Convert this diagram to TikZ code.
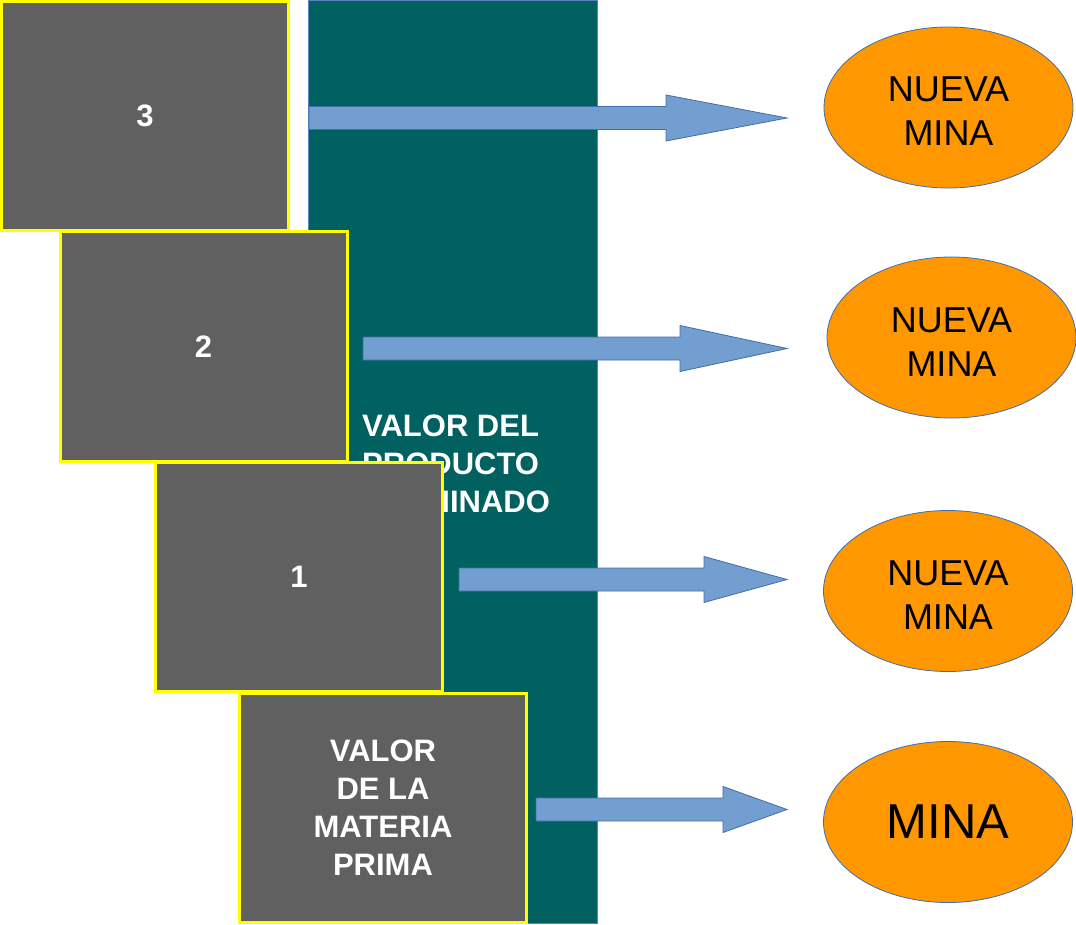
\documentclass[tikz,border=0pt]{standalone}
\usepackage{fontspec}
\setmainfont{Liberation Sans}
\usetikzlibrary{shapes.geometric}
\definecolor{tealbg}{RGB}{1,96,96}
\definecolor{tealedge}{RGB}{90,130,190}
\definecolor{boxgray}{RGB}{96,96,96}
\definecolor{boxedge}{RGB}{255,255,0}
\definecolor{arrowfill}{RGB}{114,159,207}
\definecolor{arrowedge}{RGB}{65,110,170}
\definecolor{minafill}{RGB}{255,152,0}
\definecolor{minaedge}{RGB}{65,110,170}
\tikzset{
  stagebox/.style={draw=boxedge, line width=3pt, fill=boxgray, rectangle,
    minimum width=287pt, minimum height=229pt, inner sep=0pt,
    text=white, font=\fontsize{31}{38}\selectfont\bfseries, align=center},
  minanode/.style={draw=minaedge, line width=0.8pt, fill=minafill, ellipse,
    minimum width=249pt, minimum height=161pt, inner sep=0pt,
    text=black, font=\fontsize{36}{44}\selectfont, align=center},
  blockarrow/.style={draw=arrowedge, line width=0.8pt, fill=arrowfill, line join=miter},
  tealtext/.style={text=white, font=\fontsize{31}{38}\selectfont\bfseries, inner sep=0pt, anchor=base west}
}
\newcommand\lift{\rule{0pt}{33pt}}
\begin{document}
\begin{tikzpicture}[x=1pt,y=-1pt]
\useasboundingbox (0,0) rectangle (1076,925);
% teal column
\node[draw=tealedge, line width=1pt, fill=tealbg, rectangle, inner sep=0pt,
  minimum width=289pt, minimum height=922pt] (teal) at (452.5,462) {};
\node[tealtext] (t1) at (362,436) {VALOR DEL};
\node[tealtext] (t2) at (362,474) {PRODUCTO};
\node[tealtext] (t3) at (362,512) {TERMINADO};
% stacked boxes
\node[stagebox] (b3) at (145,116) {3};
\node[stagebox] (b2) at (203.5,346.5) {2};
\node[stagebox] (b1) at (299,577) {1};
\node[stagebox] (b0) at (383,807.5) {VALOR\\DE LA\\MATERIA\\PRIMA};
% block arrows
\foreach \xs/\xh/\yc in {309/666/118, 363/680/348.5, 459/704/579.5, 536/723/809.5}{
  \draw[blockarrow] (\xs,\yc-11.5) -- (\xh,\yc-11.5) -- (\xh,\yc-23) -- (787,\yc)
    -- (\xh,\yc+23) -- (\xh,\yc+11.5) -- (\xs,\yc+11.5) -- cycle;
}
% mines
\node[minanode] (m3) at (948.5,107.5) {\lift NUEVA\\MINA};
\node[minanode] (m2) at (951.5,337.5) {\lift NUEVA\\MINA};
\node[minanode] (m1) at (948,591) {\lift NUEVA\\MINA};
\node[minanode, font=\fontsize{49}{56}\selectfont] (m0) at (948,822) {MINA};
\end{tikzpicture}
\end{document}
